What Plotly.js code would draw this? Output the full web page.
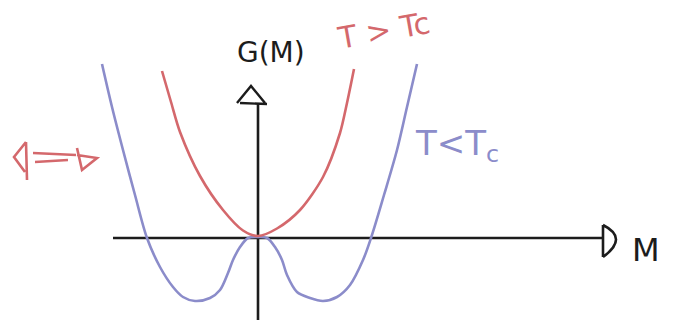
<!DOCTYPE html>
<html>
<head>
<meta charset="utf-8">
<script src="https://cdn.plot.ly/plotly-3.0.1.min.js"></script>
<style>html,body{margin:0;padding:0;background:#fff;}#chart{width:677px;height:327px;}</style>
</head>
<body>
<div id="chart"></div>
<script>
// Free energy G(m) sketch: values (arbitrary units)
const mAbove = [-1.92, -1.74, -1.56, -1.16, -0.70, -0.30, 0.00, 0.38, 0.84, 1.30, 1.64, 1.78, 1.92];
const gAbove = [3.32, 2.70, 2.10, 1.22, 0.54, 0.13, 0.02, 0.17, 0.54, 1.20, 2.08, 2.68, 3.36];

const mBelow = [-3.12, -2.92, -2.70, -2.46, -2.22, -1.96, -1.70, -1.50, -1.26, -0.96, -0.76, -0.60, -0.50, -0.36, -0.20, -0.02,
                0.18, 0.34, 0.48, 0.58, 0.78, 1.04, 1.30, 1.58, 1.84, 2.10, 2.26, 2.52, 2.78, 2.98, 3.18];
const gBelow = [3.46, 2.60, 1.74, 0.84, -0.02, -0.60, -1.00, -1.20, -1.28, -1.22, -1.06, -0.72, -0.46, -0.20, -0.02, 0.00,
                -0.02, -0.20, -0.46, -0.76, -1.10, -1.22, -1.28, -1.20, -0.96, -0.46, -0.02, 0.84, 1.74, 2.60, 3.46];

const labelAbove = 'T > Tc';
const labelBelow = 'T<T<sub>c</sub>';
const labelY = 'G(M)';
const labelX = 'M';

const RED = '#d4686c';
const BLUE = '#8b8cca';
const INK = '#1c1c1c';

// pixel -> data helpers for decorations
const OX = 258, OY = 237, S = 50;
const X = px => (px - OX) / S;
const Y = py => (OY - py) / S;
function path(cmds) {
  return cmds.map(c => {
    if (typeof c === 'string') return c;
    return X(c[0]).toFixed(3) + ',' + Y(c[1]).toFixed(3);
  }).join(' ');
}

const traces = [
  {x: mBelow, y: gBelow, mode: 'lines', line: {color: BLUE, width: 2.6, shape: 'spline', smoothing: 0.9}, hoverinfo: 'skip'},
  {x: mAbove, y: gAbove, mode: 'lines', line: {color: RED, width: 2.6, shape: 'spline', smoothing: 0.8}, hoverinfo: 'skip'}
];

const shapes = [
  // horizontal axis
  {type: 'line', x0: X(113), y0: Y(238), x1: X(602), y1: Y(238), line: {color: INK, width: 2.6}, layer: 'below'},
  {type: 'path', path: path(['M', [603, 225], 'L', [603, 257], 'M', [603, 225], 'Q', [629, 238], [603, 257]]), line: {color: INK, width: 2.6}},
  // vertical axis
  {type: 'line', x0: X(258), y0: Y(103), x1: X(258), y1: Y(320), line: {color: INK, width: 2.6}, layer: 'below'},
  {type: 'path', path: path(['M', [237, 103], 'L', [251, 86], 'L', [265, 103], 'M', [240, 103], 'L', [267, 104]]), line: {color: INK, width: 2.4}},
  // red double-arrow symbol on the left
  {type: 'path', path: path(['M', [26, 142], 'L', [27, 180], 'M', [26, 142], 'L', [14, 157], 'L', [25, 172],
                            'M', [33, 153], 'L', [76, 155], 'M', [35, 162], 'L', [68, 160],
                            'M', [77, 148], 'L', [82, 170], 'L', [97, 158], 'L', [77, 155]]),
   line: {color: RED, width: 2.6}}
];

const font = 'DejaVu Sans, sans-serif';
const annotations = [
  {x: X(271), y: Y(52), text: labelY, showarrow: false, font: {family: font, size: 28, color: INK}},
  {x: X(383), y: Y(30), text: labelAbove, showarrow: false, textangle: -10, font: {family: font, size: 30, color: RED}},
  {x: X(457), y: Y(145), text: labelBelow, showarrow: false, font: {family: font, size: 34, color: BLUE}},
  {x: X(646), y: Y(250), text: labelX, showarrow: false, font: {family: font, size: 32, color: INK}}
];

const layout = {
  width: 677, height: 327,
  margin: {l: 0, r: 0, t: 0, b: 0, pad: 0},
  paper_bgcolor: '#ffffff', plot_bgcolor: '#ffffff',
  showlegend: false,
  xaxis: {range: [X(0), X(677)], visible: false, fixedrange: true},
  yaxis: {range: [Y(327), Y(0)], visible: false, fixedrange: true},
  shapes: shapes,
  annotations: annotations
};

Plotly.newPlot('chart', traces, layout, {displayModeBar: false, staticPlot: true});
</script>
</body>
</html>
